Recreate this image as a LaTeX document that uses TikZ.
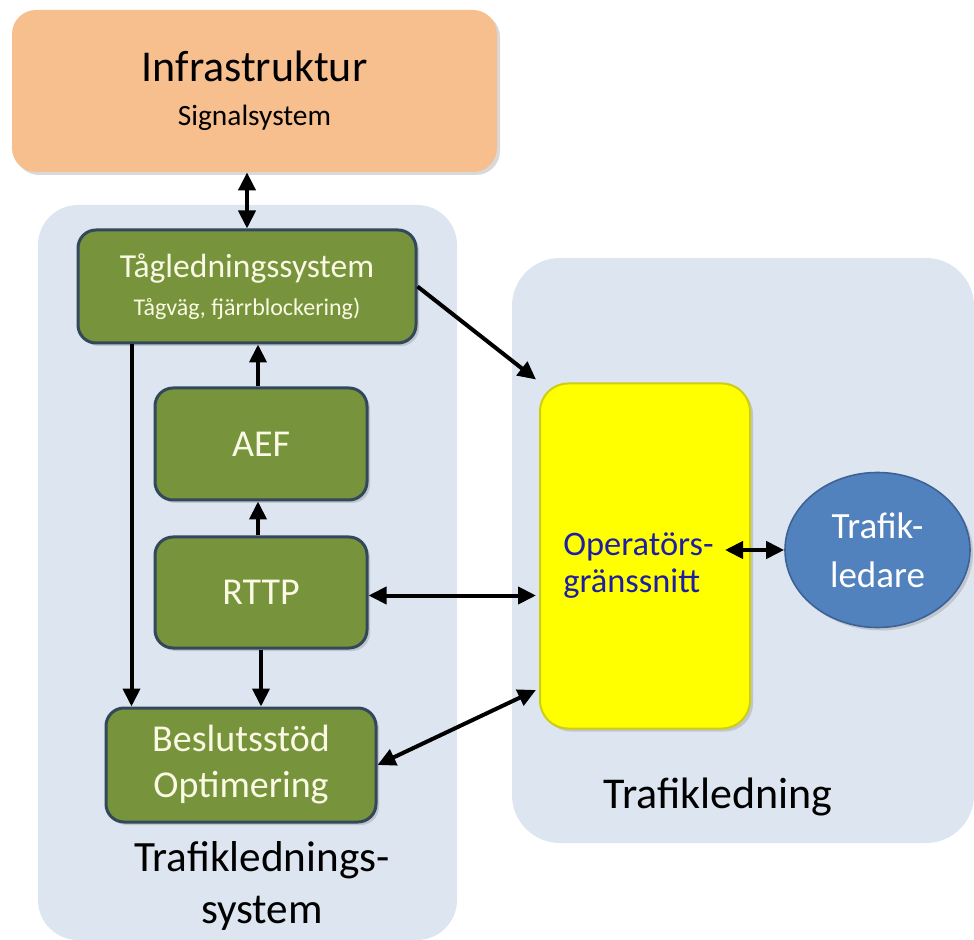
\documentclass[tikz,border=0pt]{standalone}
\usepackage{fontspec}
\setmainfont{Carlito}
\usetikzlibrary{arrows.meta,shapes.geometric,shadows}
% one unit = one pixel of the sketch
\newcommand{\pxScale}{0.5pt}
\newlength{\px}
\setlength{\px}{0.5pt}
\newcommand{\bigText}{\fontsize{22}{26}\selectfont}
\newcommand{\boxText}{\fontsize{19}{22}\selectfont}
\definecolor{infraOrange}{RGB}{247,190,142}
\definecolor{panelBlue}{RGB}{220,229,240}
\definecolor{boxGreen}{RGB}{119,147,60}
\definecolor{boxEdge}{RGB}{52,72,92}
\definecolor{boxCream}{RGB}{250,250,228}
\definecolor{operYellow}{RGB}{255,255,0}
\definecolor{operEdge}{RGB}{205,205,20}
\definecolor{operText}{RGB}{30,30,165}
\definecolor{ledareBlue}{RGB}{82,130,190}
\definecolor{ledareEdge}{RGB}{60,98,150}

\begin{document}
\begin{tikzpicture}[x=\pxScale, y=-\pxScale,
    greenbox/.style={draw=boxEdge, line width=1.5pt, fill=boxGreen, rounded corners=9pt,
      text=boxCream, align=center, inner sep=0pt, font=\boxText,
      drop shadow={opacity=0.3,shadow xshift=1.5pt,shadow yshift=-1.5pt}},
    arr/.style={-{Triangle[length=9pt,width=8.5pt]}, line width=2pt},
    dblarr/.style={{Triangle[length=9pt,width=8.5pt]}-{Triangle[length=9pt,width=8.5pt]}, line width=2pt}]
  \useasboundingbox (0,0) rectangle (974,940);

  % panels behind
  \fill[panelBlue, rounded corners=20pt] (38,205) rectangle (457,940);
  \fill[panelBlue, rounded corners=24pt] (512,258) rectangle (974,843);

  \node (infra) [fill=infraOrange, rounded corners=12pt, minimum width=485\px, minimum height=162\px,
    align=center, inner sep=0pt, drop shadow={opacity=0.3,shadow xshift=1.5pt,shadow yshift=-1.5pt}]
    at (254.5,91) {{\fontsize{22}{26}\selectfont Infrastruktur}\\[10pt]{\fontsize{14.7}{17}\selectfont Signalsystem}};

  \node (tag) [greenbox, minimum width=338\px, minimum height=113\px] at (247,286.5)
    {{\fontsize{16.8}{20}\selectfont Tågledningssystem}\\[-3pt]{\fontsize{12}{14}\selectfont Tågväg, fjärrblockering)}};
  \node (aef) [greenbox, minimum width=212\px, minimum height=112\px] at (261,444) {AEF};
  \node (rttp) [greenbox, minimum width=212\px, minimum height=111\px] at (261,592.5) {RTTP};
  \node (beslut) [greenbox, minimum width=270\px, minimum height=114\px] at (241,765) {Beslutsstöd\\[0pt]\raisebox{-1pt}{Optimering}};
  \node (lblsys) [align=center, font=\fontsize{21.6}{26}\selectfont] at (262,886) {Trafiklednings-\\system};

  \node (oper) [fill=operYellow, draw=operEdge, line width=1pt, rounded corners=14pt, minimum width=210\px,
    minimum height=345\px, drop shadow={opacity=0.3,shadow xshift=1.5pt,shadow yshift=-1.5pt}] at (645,556) {};
  \node (opertext) [anchor=west, align=left, text=operText, inner sep=0pt,
    font=\fontsize{17.2}{18.5}\selectfont] at (563,566) {Operatörs-\\gränssnitt};
  \node (ledare) [ellipse, fill=ledareBlue, draw=ledareEdge, line width=0.8pt, minimum width=185\px,
    minimum height=155\px, inner sep=0pt, text=white, align=center, font=\fontsize{18.5}{24.5}\selectfont,
    drop shadow={opacity=0.3,shadow xshift=1.5pt,shadow yshift=-1.5pt}] at (877.5,550) {Trafik-\\ledare};
  \node (lbltraf) [font=\bigText] at (718,797) {Trafikledning};

  % connectors
  \draw[dblarr] (tag.north |- infra.south) -- (tag.north);
  \draw[arr] (tag.east) -- ([xshift=-1.5pt,yshift=1.5pt]oper.north west);
  \draw[arr] ([xshift=27.5pt]tag.south west) -- ([xshift=27.5pt]tag.south west |- beslut.north);
  \draw[arr] ([xshift=-1.5pt]aef.north) -- ([xshift=-1.5pt]aef.north |- tag.south);
  \draw[arr] ([xshift=-1.5pt]rttp.north) -- ([xshift=-1.5pt]aef.south);
  \draw[arr] (rttp.south) -- (rttp.south |- beslut.north);
  \draw[dblarr] ([yshift=-1.5pt]rttp.east) -- ([yshift=-1.5pt,xshift=-1.5pt]rttp.east -| oper.west);
  \draw[dblarr] (beslut.east) -- ([xshift=-1.5pt,yshift=-67pt]oper.west);
  \draw[dblarr] (ledare.west) -- ([xshift=-13pt]oper.east |- ledare.west);
\end{tikzpicture}
\end{document}
